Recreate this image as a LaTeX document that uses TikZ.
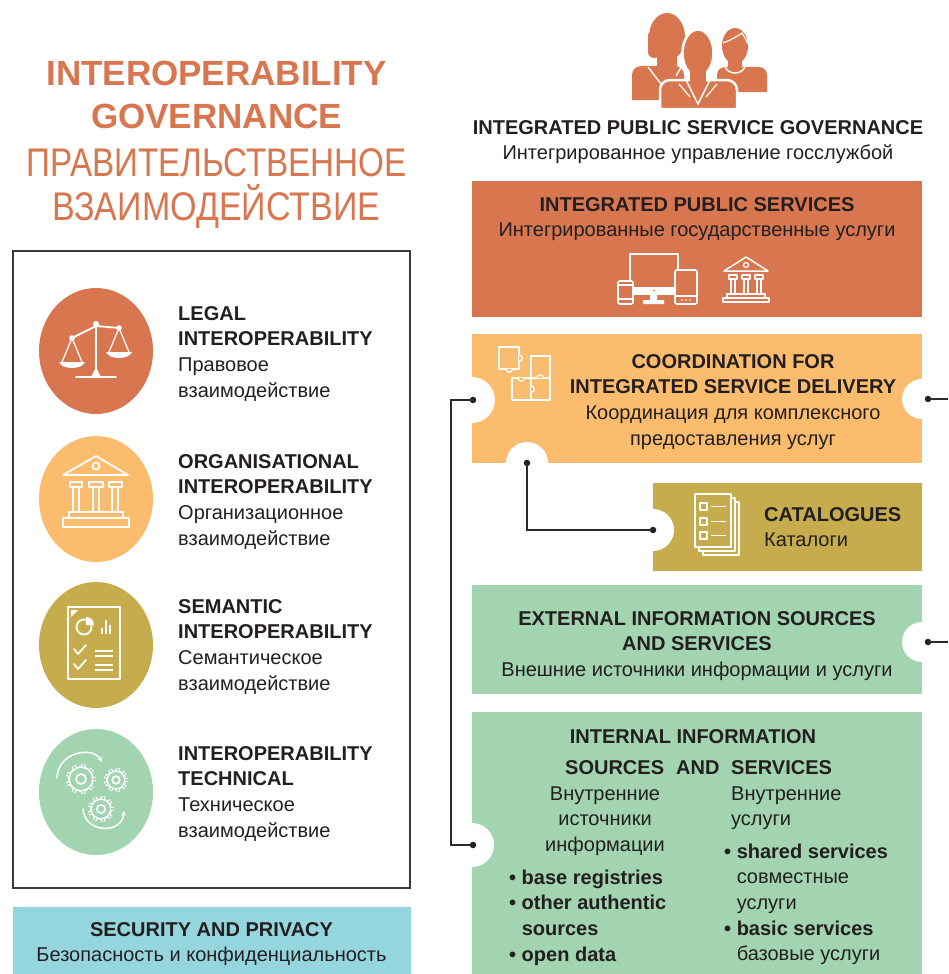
\documentclass[tikz,border=0pt]{standalone}
\usepackage{graphicx}
\usepackage{fontspec}
\setmainfont{Liberation Sans}
\usetikzlibrary{arrows.meta}

\definecolor{ink}{HTML}{231F20}
\definecolor{wirecol}{HTML}{2B2B2B}
\definecolor{frame}{HTML}{3A3A3A}
\definecolor{cRed}{HTML}{D8774F}
\definecolor{cOrange}{HTML}{FBBC6E}
\definecolor{cOlive}{HTML}{C6AC4C}
\definecolor{cGreen}{HTML}{A1D4AF}
\definecolor{cCyan}{HTML}{95D5DD}

\newcommand\firststrut{\rule{0pt}{16pt}}

\begin{document}
\begin{tikzpicture}[x=1pt,y=1pt,yscale=-1,
  txt/.style={inner sep=0pt, text=ink, font=\fontsize{20}{25.6}\selectfont},
  ttl/.style={inner sep=0pt, anchor=base, text=cRed},
  dot/.style={circle, fill=ink, inner sep=0pt, minimum size=6.5pt},
  wire/.style={draw=wirecol, line width=1.4pt},
  ico/.style={draw=white, line width=1.8pt, line join=round, line cap=round},
  thinico/.style={draw=white, line width=1.3pt, line join=round, line cap=round}]

\useasboundingbox (0,0) rectangle (948,974);
\fill[white] (0,0) rectangle (948,974);

% ---------------- left column: title ----------------
\node[ttl, font=\bfseries\fontsize{35}{35}\selectfont] (t1) at (216.5,85.5) {INTEROPERABILITY};
\node[ttl, font=\bfseries\fontsize{35}{35}\selectfont] (t2) at (216.5,128.5) {GOVERNANCE};
\node[ttl, font=\fontsize{40}{40}\selectfont] (t3) at (216.5,176.5) {\scalebox{0.83}[1]{ПРАВИТЕЛЬСТВЕННОЕ}};
\node[ttl, font=\fontsize{40}{40}\selectfont] (t4) at (216.5,220.5) {\scalebox{0.85}[1]{ВЗАИМОДЕЙСТВИЕ}};

% ---------------- left column: layers frame ----------------
\draw[draw=frame, line width=1.5pt] (13,251) rectangle (410,888);

\fill[cRed]    (96,351) ellipse [x radius=57, y radius=63];
\fill[cOrange] (96,499) ellipse [x radius=57, y radius=63];
\fill[cOlive]  (96,645) ellipse [x radius=57, y radius=63];
\fill[cGreen]  (96,792) ellipse [x radius=57, y radius=63];

% scales
\draw[ico] (96,325) -- (96,376);
\draw[ico] (76,377) -- (116,377);
\fill[white] (91,377) -- (96,367) -- (101,377) -- cycle;
\draw[ico] (72,338) -- (96,326) -- (119,328);
\fill[white] (72,338) circle (2.8) (119,328) circle (2.8) (96,324) circle (3);
\draw[thinico] (62,362) -- (72,338) -- (82,362);
\draw[thinico] (109,352) -- (119,328) -- (129,352);
\fill[white] (59,362) .. controls (62,370) and (82,370) .. (85,362) -- cycle;
\fill[white] (106,352) .. controls (109,360) and (129,360) .. (132,352) -- cycle;

% building
\draw[ico] (63,475) -- (96,456) -- (128,475) -- cycle;
\draw[ico] (96,466) circle (3.5);
\draw[ico] (70,482) rectangle (82,487) (89,482) rectangle (103,487) (109,482) rectangle (122,487);
\draw[ico] (73,487) -- (73,512) (79,487) -- (79,512) (93,487) -- (93,512) (99,487) -- (99,512)
           (112,487) -- (112,512) (118,487) -- (118,512);
\draw[ico] (69,512) rectangle (123,518);
\draw[ico] (63,518) rectangle (129,527);

% report sheet
\draw[ico] (68,607) rectangle (120,679);
\fill[white] (71,610) -- (78,610) -- (71,617) -- cycle;
\draw[ico] (84,627) circle (7.5);
\fill[white] (86,625) -- ++(0,-8) arc[start angle=-90, end angle=0, radius=8] -- cycle;
\draw[white, line width=1.6pt] (102,634) -- (102,628) (106,634) -- (106,620) (110,634) -- (110,625);
\draw[ico] (74,649) -- (78,654) -- (86,645);
\draw[ico] (74,664) -- (78,669) -- (86,660);
\draw[white, line width=1.8pt] (95,651) -- (113,651) (95,656) -- (113,656) (95,665) -- (113,665) (95,670) -- (113,670);

% gears
\foreach \cx/\cy/\r in {81/779/12, 116/780/9, 101/809/10} {
  \foreach \a in {0,40,...,320}
    \draw[white, line width=4.2pt] (\cx,\cy) ++(\a:\r-1) -- ++(\a:4);
  \fill[cGreen] (\cx,\cy) circle (\r-0.9);
  \draw[ico, line width=1.7pt] (\cx,\cy) circle (\r);
  \draw[ico, line width=1.7pt] (\cx,\cy) circle (\r*0.42);
}
\foreach \cx/\cy/\r in {81/779/12, 116/780/9, 101/809/10} {
  \foreach \a in {0,40,...,320}
    \draw[cGreen, line width=1.8pt] (\cx,\cy) ++(\a:\r+0.2) -- ++(\a:2.4);
}
\draw[ico, line width=1.5pt, -{Stealth[length=5pt,width=5pt]}] (57,778) .. controls (57,753) and (92,745) .. (102,762);
\draw[ico, line width=1.5pt, -{Stealth[length=5pt,width=5pt]}] (83,809) .. controls (85,834) and (122,834) .. (124,811);

% layer captions
\node[txt, anchor=north west, align=left] (legal) at (178,304)
  {\firststrut\textbf{LEGAL}\\\textbf{INTEROPERABILITY}\\Правовое\\взаимодействие};
\node[txt, anchor=north west, align=left] (organisational) at (178,452)
  {\firststrut\textbf{ORGANISATIONAL}\\\textbf{INTEROPERABILITY}\\Организационное\\взаимодействие};
\node[txt, anchor=north west, align=left] (semantic) at (178,597)
  {\firststrut\textbf{SEMANTIC}\\\textbf{INTEROPERABILITY}\\Семантическое\\взаимодействие};
\node[txt, anchor=north west, align=left] (technical) at (178,744)
  {\firststrut\textbf{INTEROPERABILITY}\\\textbf{TECHNICAL}\\Техническое\\взаимодействие};

% security band
\fill[cCyan] (13,907) rectangle (411,974);
\node[txt, anchor=north, align=center] (security) at (211.5,920)
  {\firststrut\textbf{SECURITY AND PRIVACY}\\Безопасность и конфиденциальность};

% ---------------- right column: people ----------------
% left person (woman)
\fill[cRed] (632,100) [rounded corners=9pt]-- (632,66) -- (684,66) [sharp corners]-- (684,100) -- cycle;
\fill[cRed] (657,52) rectangle (677,68);
\fill[cRed] (667,37) ellipse [x radius=18, y radius=24];
\fill[cRed, rounded corners=6pt] (648,30) -- (648,58) -- (660,58) -- (660,30) -- cycle;
\draw[white, line width=1.4pt] (648,67) -- (661,84) (683,64) -- (676,76);
% right person
\fill[cRed] (717,92) [rounded corners=8pt]-- (717,67) -- (767,67) [sharp corners]-- (767,92) -- cycle;
\fill[cRed] (728,56) rectangle (742,69);
\fill[cRed] (735,46) ellipse [x radius=13, y radius=18];
\draw[white, line width=1.4pt] (725,67) .. controls (729,75) and (741,75) .. (745,67);
\draw[white, line width=1.2pt] (723,43) .. controls (731,40) and (738,36) .. (742,33) .. controls (744,36) and (746,40) .. (748,44);
% middle person (front)
\fill[cRed, draw=white, line width=2.5pt] (660,109) [rounded corners=10pt]-- (660,80) -- (737,80) [sharp corners]-- (737,109) -- cycle;
\fill[cRed, draw=white, line width=2.5pt] (698,53) ellipse [x radius=15.5, y radius=23.5];
\fill[cRed] (690,70) rectangle (706,82);
\draw[white, line width=1.5pt] (686,80) -- (698,104) -- (710,80);
\draw[white, line width=1.2pt] (679,84) -- (690,97) (717,84) -- (706,97);

\node[txt, anchor=north, align=center] (ipsg) at (698,118)
  {\firststrut\textbf{INTEGRATED PUBLIC SERVICE GOVERNANCE}\\Интегрированное управление госслужбой};

% ---------------- integrated public services ----------------
\fill[cRed] (472,181) rectangle (922,317);
\node[txt, anchor=north, align=center] (ips) at (697,195)
  {\firststrut\textbf{INTEGRATED PUBLIC SERVICES}\\Интегрированные государственные услуги};
% devices
\draw[ico, line width=1.6pt] (630,254) rectangle (678,294);
\fill[white] (630,287) rectangle (678,294);
\fill[cRed] (654,290.5) circle (1);
\fill[white] (650,294) rectangle (657,300) (643,300) rectangle (664,304);
\draw[ico, line width=1.6pt, fill=cRed, rounded corners=1.5pt] (618,281) rectangle (633,304);
\draw[white, line width=1.2pt] (618,285) -- (633,285) (618,299) -- (633,299);
\draw[ico, line width=1.6pt, fill=cRed, rounded corners=1.5pt] (675,270) rectangle (697,304);
\draw[white, line width=1.2pt] (675,296) -- (697,296);
\fill[white] (682,300) circle (0.9) (686,300) circle (0.9) (690,300) circle (0.9);
% building
\draw[ico, line width=1.5pt] (724,271) -- (746,257) -- (768,271) -- cycle;
\draw[ico, line width=1.3pt] (746,265) circle (2.5);
\draw[ico, line width=1.4pt] (729,275) rectangle (737,279) (742,275) rectangle (750,279) (755,275) rectangle (763,279);
\draw[ico, line width=1.3pt] (731,279) -- (731,294) (735,279) -- (735,294) (744,279) -- (744,294) (748,279) -- (748,294)
           (757,279) -- (757,294) (761,279) -- (761,294);
\draw[ico, line width=1.4pt] (727,294) rectangle (765,298);
\draw[ico, line width=1.4pt] (723,298) rectangle (769,302);

% ---------------- coordination ----------------
\fill[cOrange] (472,334) rectangle (922,463);
\node[txt, anchor=north, align=center] (coord) at (733,352)
  {\firststrut\textbf{COORDINATION FOR}\\\textbf{INTEGRATED SERVICE DELIVERY}\\Координация для комплексного\\предоставления услуг};
% puzzle pieces
\draw[thinico] (499,347) rectangle (519,369);
\draw[thinico, fill=cOrange] (519,355) arc[start angle=-90, end angle=90, radius=3.2];
\draw[thinico, fill=cOrange] (506,369) arc[start angle=180, end angle=0, radius=3.2];
\draw[thinico] (531,356) rectangle (550,378);
\draw[thinico] (512,378) rectangle (550,400);
\draw[thinico] (531,378) -- (531,400);
\draw[thinico, fill=cOrange] (537,378) arc[start angle=180, end angle=360, radius=3.2];
\draw[thinico, fill=cOrange] (531,386) arc[start angle=-90, end angle=90, radius=3.2];
\draw[thinico, fill=cOrange] (518,378) arc[start angle=180, end angle=0, radius=3.2];

% ---------------- catalogues ----------------
\fill[cOlive] (653,483) rectangle (922,571);
\foreach \d in {8,4,0}
  \draw[ico, line width=1.5pt, fill=cOlive] (695+\d,494+\d) rectangle (731+\d,547+\d);
\foreach \yy in {503,518,532} {
  \draw[ico, line width=1.4pt] (700,\yy) rectangle (707,\yy+7);
  \draw[white, line width=1.5pt] (711,\yy+3.5) -- (726,\yy+3.5);
}
\node[txt, anchor=north west, align=left] (cat) at (764,505)
  {\firststrut\textbf{CATALOGUES}\\Каталоги};

% ---------------- external sources ----------------
\fill[cGreen] (472,585) rectangle (922,694);
\node[txt, anchor=north, align=center] (ext) at (697,609)
  {\firststrut\textbf{EXTERNAL INFORMATION SOURCES}\\\textbf{AND SERVICES}\\Внешние источники информации и услуги};

% ---------------- internal sources ----------------
\fill[cGreen] (472,712) rectangle (922,974);
\node[txt, anchor=north, align=center] (inthead) at (693,727)
  {\firststrut\textbf{INTERNAL INFORMATION}};
\node[txt, anchor=base west, font=\bfseries\fontsize{20}{25.6}\selectfont] (wSrc) at (565,774) {SOURCES};
\node[txt, anchor=base west, font=\bfseries\fontsize{20}{25.6}\selectfont] (wAnd) at (676,774) {AND};
\node[txt, anchor=base west, font=\bfseries\fontsize{20}{25.6}\selectfont] (wSrv) at (731,774) {SERVICES};
\node[txt, anchor=north, align=center] (intsrc) at (605,784)
  {\firststrut Внутренние\\источники\\информации};
\node[txt, anchor=north west, align=left] (srclist) at (509,868)
  {\firststrut\textbf{• base registries}\\\textbf{• other authentic}\\\textbf{\phantom{• }sources}\\\textbf{• open data}};
\node[txt, anchor=north west, align=left] (intsrv) at (731,784)
  {\firststrut Внутренние\\услуги};
\node[txt, anchor=north west, align=left] (srvlist) at (724,842)
  {\firststrut\textbf{• shared services}\\\phantom{\textbf{• }}совместные\\\phantom{\textbf{• }}услуги\\\textbf{• basic services}\\\phantom{\textbf{• }}базовые услуги};

% ---------------- sockets and links ----------------
\fill[white] (472,400) circle (23) (922,399) circle (20) (527,463) circle (21)
             (653,530) circle (21) (922,642) circle (20) (472,845) circle (22);

\node[dot] (dCoL) at (473,400) {};
\node[dot] (dCoR) at (928,399) {};
\node[dot] (dCoB) at (527,463) {};
\node[dot] (dCat) at (653,530) {};
\node[dot] (dExt) at (928,642) {};
\node[dot] (dInt) at (473,845) {};
\coordinate (outCo) at (948,399);
\coordinate (outExt) at (948,642);

\draw[wire] (dCoL.center) -- ++(-22,0) |- (dInt.center);
\draw[wire] (dCoB.center) |- (dCat.center);
\draw[wire] (dCoR.center) -- (outCo);
\draw[wire] (dExt.center) -- (outExt);

\end{tikzpicture}
\end{document}
